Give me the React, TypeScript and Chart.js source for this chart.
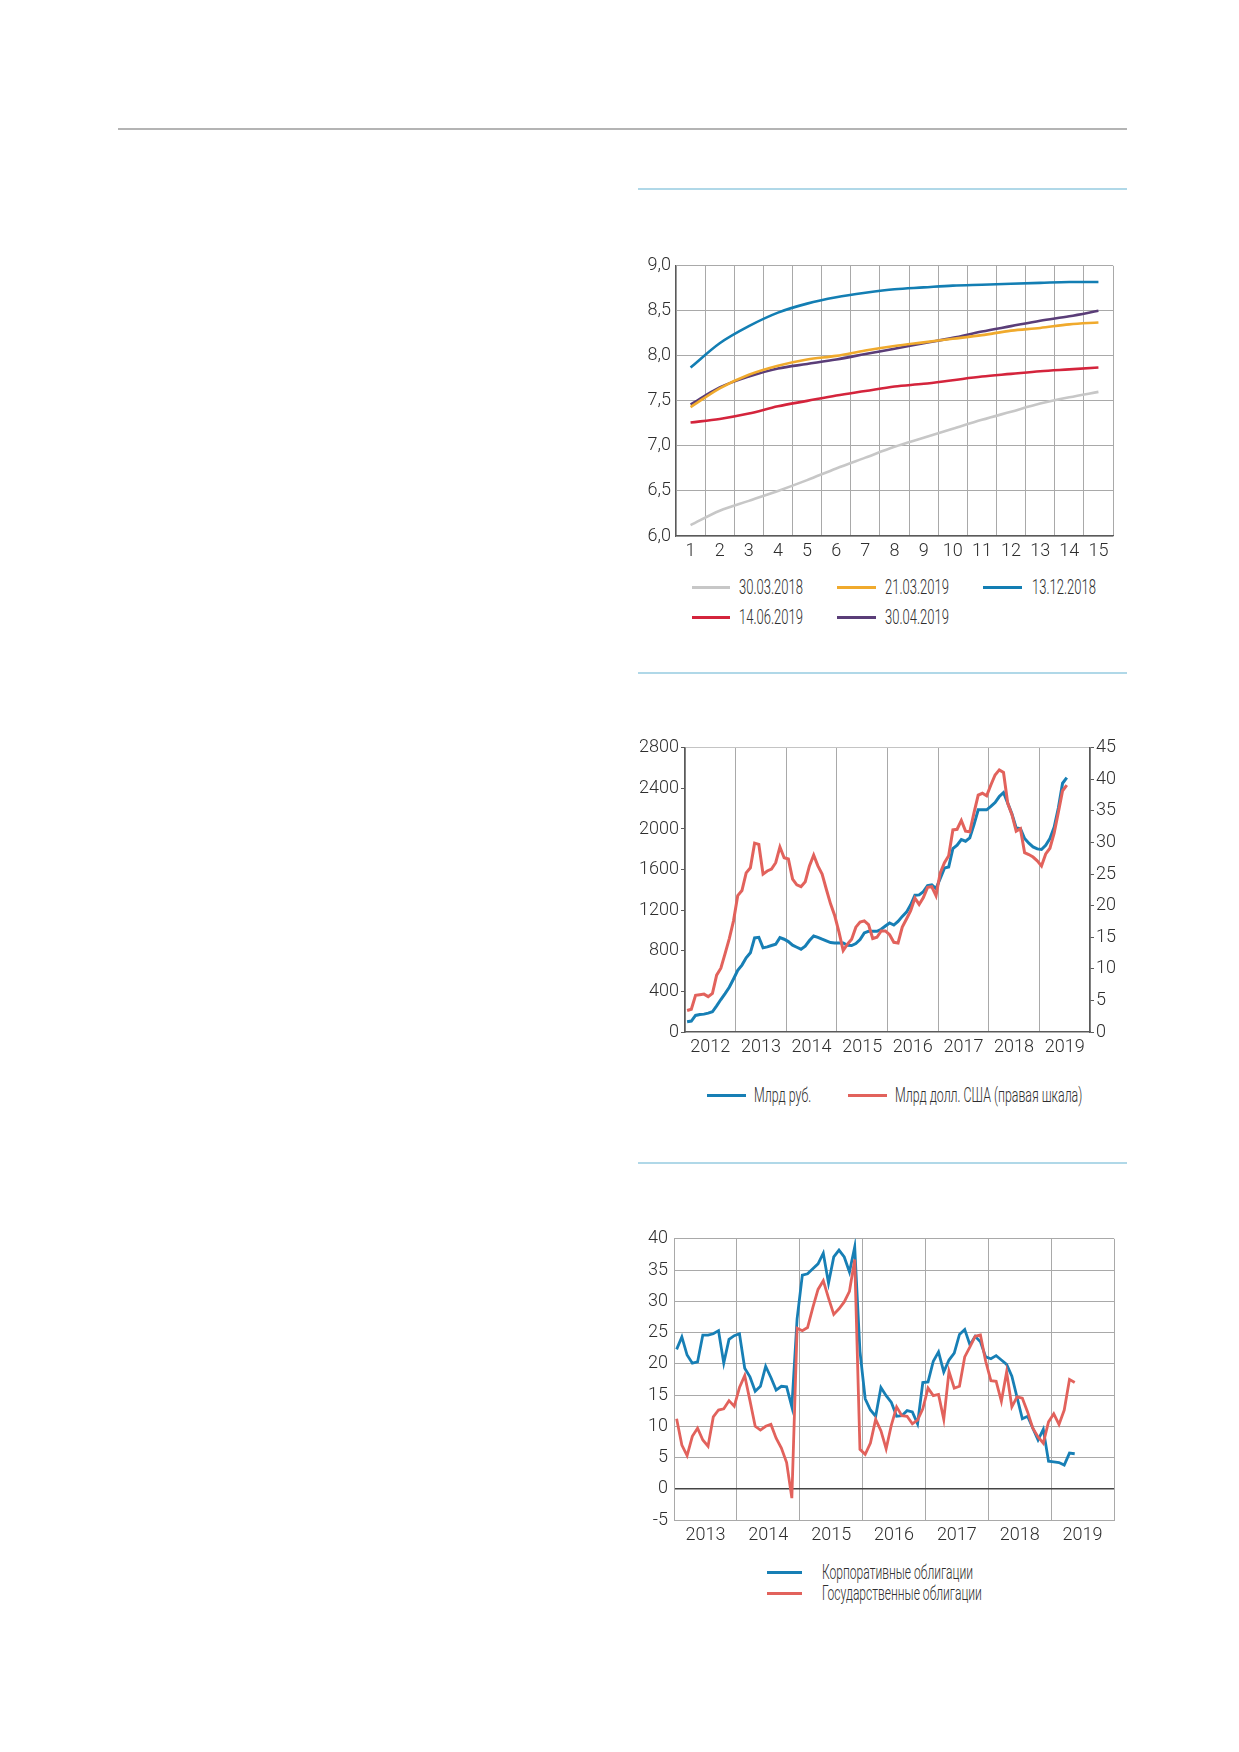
import React, { useEffect, useRef } from "react";
import { Chart, registerables } from "chart.js";

Chart.register(...registerables);

const FONT = "Roboto, 'DejaVu Sans Condensed', sans-serif";
const TEXT = "#2e2e2e";
const GRID = "#a9a9a9";
const AXIS = "#5a5a5a";

// ---------- Chart 1: yield curves ----------
const tenorLabels = ["1", "2", "3", "4", "5", "6", "7", "8", "9", "10", "11", "12", "13", "14", "15"];
const curve_30_03_2018 = [6.12, 6.28, 6.39, 6.5, 6.62, 6.75, 6.87, 6.99, 7.09, 7.19, 7.29, 7.38, 7.47, 7.54, 7.6];
const curve_21_03_2019 = [7.43, 7.64, 7.79, 7.89, 7.96, 8.0, 8.06, 8.11, 8.15, 8.19, 8.23, 8.28, 8.31, 8.35, 8.37];
const curve_13_12_2018 = [7.87, 8.14, 8.33, 8.48, 8.58, 8.65, 8.7, 8.74, 8.76, 8.78, 8.79, 8.8, 8.81, 8.82, 8.82];
const curve_14_06_2019 = [7.26, 7.3, 7.36, 7.44, 7.5, 7.56, 7.61, 7.66, 7.69, 7.73, 7.77, 7.8, 7.83, 7.85, 7.87];
const curve_30_04_2019 = [7.46, 7.65, 7.77, 7.86, 7.91, 7.96, 8.02, 8.08, 8.14, 8.2, 8.27, 8.33, 8.39, 8.44, 8.5];

// ---------- Chart 2: monthly, from Jan 2012 ----------
const volStartYear = 2012;
const volumeRub = [
  101, 108, 163, 173, 176, 186, 199, 258, 320, 379, 441, 522,
  607, 659, 731, 780, 927, 933, 829, 839, 852, 865, 930, 914,
  891, 855, 835, 816, 845, 901, 946, 933, 914, 897, 881, 878,
  878, 878, 855, 852, 871, 910, 976, 992, 992, 992, 1012, 1044,
  1074, 1054, 1090, 1139, 1181, 1253, 1348, 1351, 1383, 1442, 1449, 1413,
  1514, 1615, 1625, 1808, 1840, 1896, 1880, 1912, 2043, 2189, 2189, 2189,
  2222, 2261, 2320, 2359, 2255, 2147, 2010, 2003, 1906, 1860, 1824, 1804,
  1798, 1840, 1906, 2017, 2206, 2451, 2506,
];
const volumeUsd = [
  3.4, 3.6, 5.8, 5.9, 6.0, 5.6, 6.1, 9.0, 10.1, 12.4, 14.8, 17.6,
  21.6, 22.4, 25.2, 26.0, 29.9, 29.7, 25.0, 25.5, 25.8, 26.8, 29.3, 27.6,
  27.4, 24.2, 23.3, 23.0, 23.8, 26.3, 28.0, 26.3, 25.0, 22.6, 20.3, 18.4,
  15.8, 12.9, 13.9, 14.7, 16.6, 17.4, 17.6, 17.0, 14.8, 15.0, 16.0, 16.0,
  15.4, 14.2, 14.1, 16.6, 17.9, 19.2, 21.2, 20.2, 21.3, 22.9, 23.0, 21.6,
  25.2, 26.8, 27.9, 32.0, 32.1, 33.5, 31.8, 31.7, 34.7, 37.5, 37.8, 37.4,
  39.1, 40.7, 41.5, 41.1, 36.2, 34.4, 31.8, 32.2, 28.4, 28.1, 27.7, 27.1,
  26.3, 28.2, 29.1, 31.5, 34.8, 38.2, 39.1,
];

// ---------- Chart 3: monthly, from Jan 2013 ----------
const bondStartYear = 2013;
const corporateBonds = [
  22.3, 24.3, 21.4, 20.1, 20.3, 24.6, 24.6, 24.8, 25.3, 20.1, 23.9, 24.5,
  24.8, 19.3, 17.9, 15.6, 16.4, 19.6, 17.8, 15.8, 16.4, 16.3, 13.1, 27.2,
  34.2, 34.4, 35.2, 36.0, 37.7, 32.9, 37.1, 38.2, 37.1, 34.7, 38.7, 22.0,
  14.4, 12.6, 11.6, 16.2, 14.9, 13.8, 11.6, 11.7, 12.5, 12.3, 10.4, 17.0,
  17.1, 20.4, 21.9, 18.7, 20.6, 21.7, 24.7, 25.5, 23.0, 24.4, 23.5, 21.1,
  20.8, 21.3, 20.6, 19.9, 18.0, 14.6, 11.2, 11.6, 9.7, 7.8, 9.5, 4.4,
  4.3, 4.2, 3.8, 5.7, 5.6,
];
const governmentBonds = [
  11.2, 7.0, 5.3, 8.4, 9.7, 7.8, 6.8, 11.5, 12.6, 12.8, 14.1, 13.2,
  16.2, 18.1, 14.1, 10.0, 9.4, 10.0, 10.3, 8.1, 6.5, 4.2, -1.5, 25.7,
  25.3, 25.8, 29.0, 31.9, 33.3, 30.5, 27.9, 28.8, 29.9, 31.6, 36.7, 6.3,
  5.5, 7.3, 11.1, 9.3, 6.4, 10.2, 13.1, 11.7, 11.6, 10.4, 11.0, 12.8,
  16.1, 14.9, 15.1, 11.1, 18.8, 16.1, 16.4, 21.1, 22.7, 24.4, 24.6, 20.4,
  17.3, 17.2, 14.0, 18.7, 13.1, 14.7, 14.5, 12.3, 9.7, 8.3, 7.3, 10.7,
  12.0, 10.3, 12.6, 17.5, 17.0,
];

const C1 = { gray: "#c7c7c7", orange: "#f0aa2d", blue: "#137eb3", red: "#d4243c", purple: "#5a3d78" };
const C2 = { blue: "#177fb5", red: "#e2625c" };

const monthly = (start: number, values: number[]) =>
  values.map((v, i) => ({ x: start + (i + 0.5) / 12, y: v }));

const isInt = (v: number) => Math.abs(v - Math.round(v)) < 1e-6;
const isHalf = (v: number) => Math.abs(v - Math.floor(v) - 0.5) < 1e-6;

Chart.defaults.font.family = FONT;
Chart.defaults.font.size = 18;
Chart.defaults.font.weight = 300 as any;
Chart.defaults.color = TEXT;

type Box = { left: number; top: number; width: number; height: number };

function ChartBox({ box, make }: { box: Box; make: () => any }) {
  const ref = useRef<HTMLCanvasElement | null>(null);
  useEffect(() => {
    if (!ref.current) return;
    const chart = new Chart(ref.current, make());
    return () => chart.destroy();
  }, []);
  return (
    <canvas
      ref={ref}
      width={box.width}
      height={box.height}
      style={{ position: "absolute", left: box.left, top: box.top, width: box.width, height: box.height }}
    />
  );
}

const baseOptions = (padding: any) => ({
  responsive: false,
  animation: false as const,
  layout: { padding },
  plugins: { legend: { display: false }, tooltip: { enabled: false } },
  elements: { point: { radius: 0 } },
});

function makeCurves() {
  const ds = (label: string, data: number[], color: string) => ({
    label, data, borderColor: color, backgroundColor: color, borderWidth: 2.6, tension: 0.4, cubicInterpolationMode: "monotone",
  });
  return {
    type: "line",
    data: {
      labels: tenorLabels,
      datasets: [
        ds("30.03.2018", curve_30_03_2018, C1.gray),
        ds("21.03.2019", curve_21_03_2019, C1.orange),
        ds("14.06.2019", curve_14_06_2019, C1.red),
        ds("30.04.2019", curve_30_04_2019, C1.purple),
        ds("13.12.2018", curve_13_12_2018, C1.blue),
      ],
    },
    options: {
      ...baseOptions({ top: 13, right: 12, left: 0, bottom: 0 }),
      scales: {
        x: {
          type: "category",
          offset: true,
          grid: { offset: true, color: GRID, drawTicks: false },
          border: { color: AXIS, width: 1.2 },
          ticks: { autoSkip: false, maxRotation: 0, padding: 5 },
          afterFit: (s: any) => { s.height = 34; },
        },
        y: {
          min: 6, max: 9,
          grid: { color: GRID, drawTicks: false },
          border: { color: AXIS, width: 1.2 },
          ticks: { stepSize: 0.5, padding: 5, callback: (v: any) => Number(v).toFixed(1).replace(".", ",") },
          afterFit: (s: any) => { s.width = 66; },
        },
      },
    },
  };
}

function makeVolume() {
  return {
    type: "line",
    data: {
      datasets: [
        { label: "Млрд долл. США (правая шкала)", data: monthly(volStartYear, volumeUsd), yAxisID: "y1", borderColor: C2.red, borderWidth: 3, tension: 0 },
        { label: "Млрд руб.", data: monthly(volStartYear, volumeRub), yAxisID: "y", borderColor: C2.blue, borderWidth: 3, tension: 0 },
      ],
    },
    options: {
      ...baseOptions({ top: 11, right: 0, left: 0, bottom: 0 }),
      scales: {
        x: {
          type: "linear", min: 2012, max: 2020,
          grid: { color: (c: any) => (c.tick && isInt(c.tick.value) ? GRID : "transparent"), drawTicks: false },
          border: { color: AXIS, width: 1.5 },
          ticks: { stepSize: 0.5, autoSkip: false, maxRotation: 0, padding: 5, callback: (v: any) => (isHalf(Number(v)) ? String(Math.floor(Number(v))) : "") },
          afterFit: (s: any) => { s.height = 33; },
        },
        y: {
          position: "left", min: 0, max: 2800,
          grid: { color: (c: any) => (c.tick && c.tick.value === 2800 ? "#c4c4c4" : "transparent"), tickColor: AXIS, tickLength: 4, drawTicks: true },
          border: { color: AXIS, width: 1.5 },
          ticks: { stepSize: 400, padding: 2, callback: (v: any) => String(v) },
          afterFit: (s: any) => { s.width = 65; },
        },
        y1: {
          position: "right", min: 0, max: 45,
          grid: { drawOnChartArea: false, tickColor: AXIS, tickLength: 4, drawTicks: true },
          border: { color: AXIS, width: 1.5 },
          ticks: { stepSize: 5, padding: 2, callback: (v: any) => String(v) },
          afterFit: (s: any) => { s.width = 40; },
        },
      },
    },
  };
}

function makeBonds() {
  return {
    type: "line",
    data: {
      datasets: [
        { label: "Государственные облигации", data: monthly(bondStartYear, governmentBonds), borderColor: C2.red, borderWidth: 2.8, tension: 0 },
        { label: "Корпоративные облигации", data: monthly(bondStartYear, corporateBonds), borderColor: C2.blue, borderWidth: 2.8, tension: 0 },
      ],
    },
    options: {
      ...baseOptions({ top: 11, right: 11, left: 0, bottom: 0 }),
      scales: {
        x: {
          type: "linear", min: 2013, max: 2020,
          grid: { color: (c: any) => (c.tick && isInt(c.tick.value) ? GRID : "transparent"), drawTicks: false },
          border: { color: GRID, width: 1 },
          ticks: { stepSize: 0.5, autoSkip: false, maxRotation: 0, padding: 5, callback: (v: any) => (isHalf(Number(v)) ? String(Math.floor(Number(v))) : "") },
          afterFit: (s: any) => { s.height = 32; },
        },
        y: {
          min: -5, max: 40,
          grid: {
            color: (c: any) => (c.tick && c.tick.value === 0 ? "#444444" : GRID),
            lineWidth: (c: any) => (c.tick && c.tick.value === 0 ? 1.6 : 1),
            drawTicks: false,
          },
          border: { color: GRID, width: 1 },
          ticks: { stepSize: 5, padding: 6, callback: (v: any) => String(v) },
          afterFit: (s: any) => { s.width = 64; },
        },
      },
    },
  };
}

function LegendItem({ x, textX, y, color, label, lineW, sx }: { x: number; textX: number; y: number; color: string; label: string; lineW: number; sx: number }) {
  return (
    <>
      <div style={{ position: "absolute", left: x, top: y - 1.5, width: lineW, height: 3, background: color }} />
      <div
        style={{
          position: "absolute", left: textX, top: y - 13, height: 26, lineHeight: "26px",
          fontFamily: FONT, fontWeight: 300, fontSize: 21, color: TEXT, whiteSpace: "nowrap",
          transform: `scaleX(${sx})`, transformOrigin: "0 50%",
        }}
      >
        {label}
      </div>
    </>
  );
}

export default function App() {
  return (
    <div style={{ position: "absolute", left: 0, top: 0, width: 1239, height: 1752, background: "#fff", overflow: "hidden" }}>
      <div style={{ position: "absolute", left: 118, top: 128, width: 1009, height: 2, background: "#b4b4b4" }} />
      <div style={{ position: "absolute", left: 638, top: 188, width: 489, height: 2, background: "#b0d8e8" }} />
      <div style={{ position: "absolute", left: 638, top: 672, width: 489, height: 2, background: "#b0d8e8" }} />
      <div style={{ position: "absolute", left: 638, top: 1162, width: 489, height: 2, background: "#b0d8e8" }} />

      <ChartBox box={{ left: 610, top: 250, width: 515, height: 320 }} make={makeCurves} />
      <LegendItem x={692} textX={739} y={587} lineW={38} sx={0.62} color={C1.gray} label="30.03.2018" />
      <LegendItem x={837} textX={885} y={587} lineW={39} sx={0.62} color={C1.orange} label="21.03.2019" />
      <LegendItem x={983} textX={1032} y={587} lineW={39} sx={0.62} color={C1.blue} label="13.12.2018" />
      <LegendItem x={692} textX={739} y={617} lineW={38} sx={0.62} color={C1.red} label="14.06.2019" />
      <LegendItem x={837} textX={885} y={617} lineW={39} sx={0.62} color={C1.purple} label="30.04.2019" />

      <ChartBox box={{ left: 620, top: 735, width: 510, height: 330 }} make={makeVolume} />
      <LegendItem x={707} textX={754} y={1095} lineW={39} sx={0.59} color={C2.blue} label="Млрд руб." />
      <LegendItem x={848} textX={895} y={1095} lineW={39} sx={0.59} color={C2.red} label="Млрд долл. США (правая шкала)" />

      <ChartBox box={{ left: 610, top: 1222, width: 515, height: 330 }} make={makeBonds} />
      <LegendItem x={767} textX={822} y={1572} lineW={35} sx={0.575} color={C2.blue} label="Корпоративные облигации" />
      <LegendItem x={767} textX={822} y={1593} lineW={35} sx={0.575} color={C2.red} label="Государственные облигации" />
    </div>
  );
}
